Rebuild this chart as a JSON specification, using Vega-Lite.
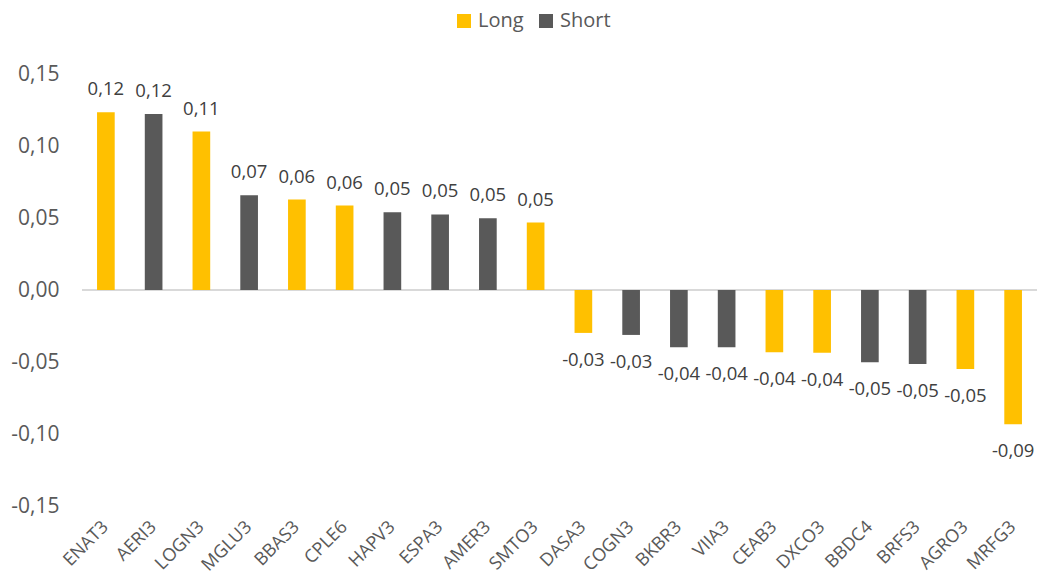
{
  "$schema": "https://vega.github.io/schema/vega-lite/v6.json",
  "autosize": {"type": "none"},
  "width": 955,
  "height": 432,
  "padding": {"left": 82, "top": 74, "right": 0, "bottom": 72},
  "background": "white",
  "config": {
    "view": {"stroke": null},
    "font": "Open Sans",
    "locale": {"number": {"decimal": ",", "thousands": ".", "grouping": [3], "currency": ["", ""], "minus": "-"}}
  },
  "data": {
    "values": [
      {"ticker": "ENAT3", "value": 0.1235, "position": "Long"},
      {"ticker": "AERI3", "value": 0.1223, "position": "Short"},
      {"ticker": "LOGN3", "value": 0.110, "position": "Long"},
      {"ticker": "MGLU3", "value": 0.0658, "position": "Short"},
      {"ticker": "BBAS3", "value": 0.0628, "position": "Long"},
      {"ticker": "CPLE6", "value": 0.0586, "position": "Long"},
      {"ticker": "HAPV3", "value": 0.054, "position": "Short"},
      {"ticker": "ESPA3", "value": 0.0525, "position": "Short"},
      {"ticker": "AMER3", "value": 0.0498, "position": "Short"},
      {"ticker": "SMTO3", "value": 0.0468, "position": "Long"},
      {"ticker": "DASA3", "value": -0.0298, "position": "Long"},
      {"ticker": "COGN3", "value": -0.0312, "position": "Short"},
      {"ticker": "BKBR3", "value": -0.0398, "position": "Short"},
      {"ticker": "VIIA3", "value": -0.0398, "position": "Short"},
      {"ticker": "CEAB3", "value": -0.0433, "position": "Long"},
      {"ticker": "DXCO3", "value": -0.0435, "position": "Long"},
      {"ticker": "BBDC4", "value": -0.0502, "position": "Short"},
      {"ticker": "BRFS3", "value": -0.0514, "position": "Short"},
      {"ticker": "AGRO3", "value": -0.0548, "position": "Long"},
      {"ticker": "MRFG3", "value": -0.0933, "position": "Long"}
    ]
  },
  "encoding": {
    "x": {
      "field": "ticker",
      "type": "nominal",
      "sort": null,
      "scale": {"paddingInner": 0.63, "paddingOuter": 0.315},
      "axis": {
        "title": null,
        "orient": "bottom",
        "domain": false,
        "ticks": false,
        "labelAngle": -45,
        "labelAlign": "right",
        "labelBaseline": "middle",
        "labelPadding": 18,
        "labelFontSize": 18,
        "labelColor": "#595959",
        "labelFont": "Open Sans"
      }
    }
  },
  "layer": [
    {
      "mark": {"type": "rule", "color": "#D9D9D9", "strokeWidth": 1.5},
      "encoding": {"y": {"datum": 0, "type": "quantitative"}, "x": null}
    },
    {
      "mark": {"type": "bar"},
      "encoding": {
        "y": {
          "field": "value",
          "type": "quantitative",
          "scale": {"domain": [-0.15, 0.15], "nice": false, "zero": false},
          "axis": {
            "title": null,
            "values": [-0.15, -0.1, -0.05, 0, 0.05, 0.1, 0.15],
            "format": ".2f",
            "domain": false,
            "ticks": false,
            "grid": false,
            "labelFontSize": 21,
            "labelColor": "#595959",
            "labelFont": "Open Sans",
            "labelPadding": 23
          }
        },
        "color": {
          "field": "position",
          "type": "nominal",
          "scale": {"domain": ["Long", "Short"], "range": ["#FFC000", "#595959"]},
          "legend": {
            "title": null,
            "orient": "none",
            "direction": "horizontal",
            "legendX": 372,
            "legendY": -63,
            "padding": 0,
            "symbolType": "square",
            "symbolSize": 196,
            "symbolStrokeWidth": 0,
            "labelFontSize": 20,
            "labelColor": "#595959",
            "labelFont": "Open Sans",
            "labelOffset": 4,
            "columnPadding": 12
          }
        }
      }
    },
    {
      "transform": [{"filter": "datum.value >= 0"}],
      "mark": {"type": "text", "baseline": "alphabetic", "dy": -17, "fontSize": 18.5, "color": "#404040", "font": "Open Sans"},
      "encoding": {
        "y": {"field": "value", "type": "quantitative"},
        "text": {"field": "value", "type": "quantitative", "format": ".2f"}
      }
    },
    {
      "transform": [{"filter": "datum.value < 0"}],
      "mark": {"type": "text", "baseline": "alphabetic", "dy": 33, "fontSize": 18.5, "color": "#404040", "font": "Open Sans"},
      "encoding": {
        "y": {"field": "value", "type": "quantitative"},
        "text": {"field": "value", "type": "quantitative", "format": ".2f"}
      }
    }
  ]
}
